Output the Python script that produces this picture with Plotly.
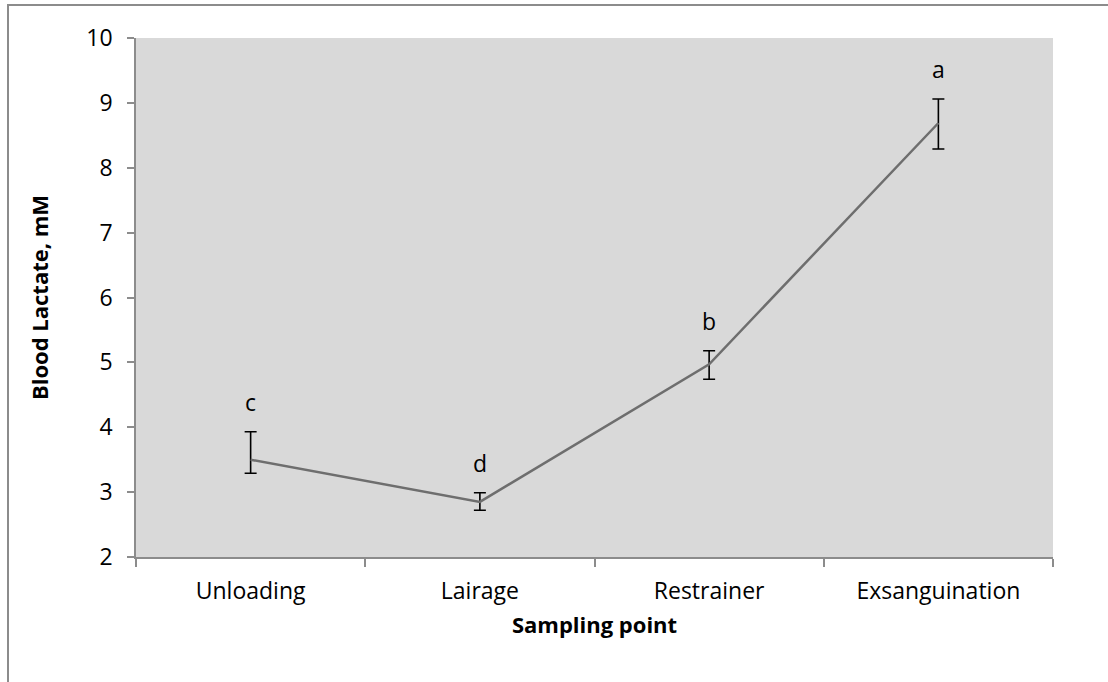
import plotly.graph_objects as go

categories = ["Unloading", "Lairage", "Restrainer", "Exsanguination"]
lactate = [3.5, 2.85, 4.97, 8.69]
err_plus = [0.43, 0.14, 0.21, 0.37]
err_minus = [0.21, 0.13, 0.23, 0.40]
letters = ["c", "d", "b", "a"]

xpos = list(range(len(categories)))
FONT = "Open Sans"

fig = go.Figure()
fig.add_trace(go.Scatter(
    x=xpos, y=lactate, mode="lines",
    line=dict(color="#6e6e6e", width=2.5),
    error_y=dict(type="data", symmetric=False, array=err_plus, arrayminus=err_minus,
                 color="black", thickness=1.6, width=6),
    showlegend=False, hoverinfo="skip",
))

for x, y, ep, t in zip(xpos, lactate, err_plus, letters):
    fig.add_annotation(x=x, y=y + ep, text=t, showarrow=False, yanchor="bottom",
                       yshift=12, font=dict(family=FONT, size=23, color="black"))

fig.update_layout(
    width=1108, height=682,
    margin=dict(l=136, r=55, t=38, b=125),
    paper_bgcolor="white", plot_bgcolor="#d9d9d9",
    font=dict(family=FONT, size=23, color="black"),
    shapes=[dict(type="rect", xref="paper", yref="paper",
                 x0=(8 - 136) / 917, x1=(1130 - 136) / 917,
                 y0=(557 - 700) / 519, y1=1 + (38 - 5) / 519,
                 line=dict(color="#8c8c8c", width=2), fillcolor="rgba(0,0,0,0)", layer="below")],
)
fig.update_xaxes(
    range=[-0.5, 3.5], tickvals=xpos, ticktext=categories, ticks="", showgrid=False,
    zeroline=False, showline=True, linecolor="#8c8c8c", linewidth=1.5,
    tickfont=dict(family=FONT, size=23), ticklabelstandoff=13,
    minor=dict(tickvals=[-0.5, 0.5, 1.5, 2.5, 3.5], ticks="outside", ticklen=8,
               tickcolor="#8c8c8c", tickwidth=1.5, showgrid=False),
    title=dict(text="<b>Sampling point</b>", font=dict(family=FONT, size=22), standoff=12),
)
fig.update_yaxes(
    range=[2, 10], dtick=1, ticks="outside", ticklen=7, tickcolor="#8c8c8c", tickwidth=1.5,
    showgrid=False, zeroline=False, showline=True, linecolor="#8c8c8c", linewidth=1.5,
    tickfont=dict(family=FONT, size=23), ticklabelstandoff=10,
    title=dict(text="<b>Blood Lactate, mM</b>", font=dict(family=FONT, size=22), standoff=32),
)

fig.write_html("out.html", config={"displayModeBar": False},
               post_script="document.body.style.margin='0';")
